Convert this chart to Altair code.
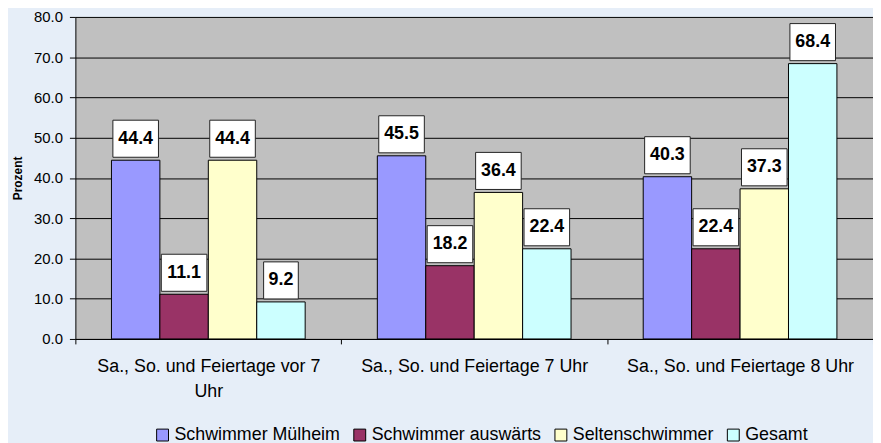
import altair as alt
import pandas as pd

categories = [
    "Sa., So. und Feiertage vor 7 Uhr",
    "Sa., So. und Feiertage 7 Uhr",
    "Sa., So. und Feiertage 8 Uhr",
]
series = ["Schwimmer Mülheim", "Schwimmer auswärts", "Seltenschwimmer", "Gesamt"]
colors = ["#9999ff", "#993366", "#ffffcc", "#ccffff"]

muelheim = [44.4, 45.5, 40.3]
auswaerts = [11.1, 18.2, 22.4]
selten = [44.4, 36.4, 37.3]
gesamt = [9.2, 22.4, 68.4]

y_ticks = [0, 10, 20, 30, 40, 50, 60, 70, 80]

rows = []
for s, vals in zip(series, [muelheim, auswaerts, selten, gesamt]):
    for c, v in zip(categories, vals):
        rows.append({"cat": c, "series": s, "value": v})
df = pd.DataFrame(rows)

label_expr = (
    "datum.value == 'Sa., So. und Feiertage vor 7 Uhr' ? "
    "['Sa., So. und Feiertage vor 7', 'Uhr'] : datum.label"
)

x_enc = alt.X(
    "cat:N",
    sort=categories,
    scale=alt.Scale(paddingInner=0, paddingOuter=0),
    axis=alt.Axis(
        title=None,
        labelAngle=0,
        labelFontSize=18,
        labelColor="black",
        labelExpr=label_expr,
        labelLineHeight=25,
        labelPadding=14,
        labelLimit=400,
        tickBand="extent",
        tickSize=5,
        tickColor="black",
        domainColor="black",
        grid=False,
    ),
)
xo_enc = alt.XOffset(
    "series:N", sort=series, scale=alt.Scale(paddingOuter=0.745, paddingInner=0)
)
y_scale = alt.Scale(domain=[0, 80], nice=False)

base = alt.Chart(df).encode(x=x_enc, xOffset=xo_enc)

bars = base.mark_bar(stroke="black", strokeWidth=1).encode(
    y=alt.Y(
        "value:Q",
        scale=y_scale,
        axis=alt.Axis(
            values=y_ticks,
            format=".1f",
            title="Prozent",
            titleFontSize=12,
            titleFontWeight="bold",
            titleColor="black",
            titlePadding=9,
            labelFontSize=15,
            labelColor="black",
            labelPadding=7,
            tickSize=6,
            tickColor="black",
            domainColor="black",
            gridColor="black",
            gridOpacity=1,
            gridWidth=1,
        ),
    ),
    color=alt.Color(
        "series:N",
        sort=series,
        scale=alt.Scale(domain=series, range=colors),
        legend=alt.Legend(
            title=None,
            orient="none",
            direction="horizontal",
            legendX=79,
            legendY=413,
            symbolType="square",
            symbolSize=144,
            symbolStrokeColor="black",
            symbolStrokeWidth=1,
            symbolOpacity=1,
            labelFontSize=18,
            labelColor="black",
            labelOffset=3,
            labelLimit=400,
            columnPadding=10,
        ),
    ),
)

boxes = (
    base.transform_calculate(boxw="datum.value >= 10 ? 46 : 35")
    .mark_bar(fill="white", stroke="#222222", strokeWidth=1, yOffset=-40.4, y2Offset=-3)
    .encode(
        y=alt.Y("value:Q", scale=y_scale),
        y2=alt.Y2("value:Q"),
        size=alt.Size("boxw:Q", scale=None, legend=None),
    )
)

labels = base.mark_text(
    fontSize=18, fontWeight="bold", color="black", baseline="middle", yOffset=-21.7
).encode(
    y=alt.Y("value:Q", scale=y_scale),
    text=alt.Text("value:Q", format=".1f"),
)

chart = (
    alt.layer(bars, boxes, labels)
    .properties(
        width=805,
        height=325,
        autosize=alt.AutoSizeParams(type="none"),
        padding={"left": 68, "top": 7, "right": 0, "bottom": 103},
        background="#e6eef8",
    )
    .configure(font="Liberation Sans")
    .configure_view(fill="#c0c0c0", stroke="transparent")
)

chart.save("out.html", embed_options={"renderer": "svg", "actions": False})
